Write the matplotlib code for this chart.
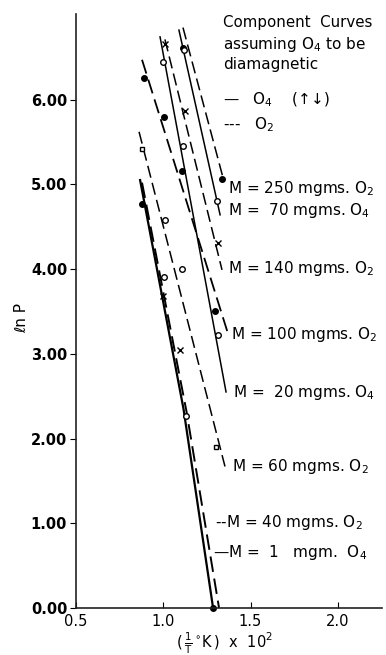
import matplotlib
matplotlib.use("Agg")
import matplotlib.pyplot as plt

plt.rcParams['font.family'] = ['DejaVu Sans']
plt.rcParams['mathtext.fontset'] = 'dejavusans'

# ---- data ----
x_ticks = [0.5, 1.0, 1.5, 2.0]
x_tick_labels = ["0.5", "1.0", "1.5", "2.0"]
y_ticks = [0, 1, 2, 3, 4, 5, 6]
y_tick_labels = ["0.00", "1.00", "2.00", "3.00", "4.00", "5.00", "6.00"]

# component curves (x = 1/T * 100, y = ln P)
m250_o2_x = [1.114, 1.349]
m250_o2_y = [6.85, 5.03]
m70_o4_x = [1.091, 1.326]
m70_o4_y = [6.82, 4.64]
m140_o2_x = [1.011, 1.337]
m140_o2_y = [6.71, 3.99]
m20_o4_x = [0.983, 1.360]
m20_o4_y = [6.74, 2.55]
m100_o2_x = [0.880, 1.377]
m100_o2_y = [6.47, 3.20]
m60_o2_x = [0.863, 1.354]
m60_o2_y = [5.62, 1.67]
m40_o2_x = [0.880, 1.134, 1.320]
m40_o2_y = [5.02, 2.32, 0.0]
m1_o4_x = [0.869, 1.117, 1.286]
m1_o4_y = [5.05, 2.35, 0.0]

# measured points
filled_x = [0.891, 1.006, 1.108, 1.297, 1.337, 1.112, 0.880, 1.286]
filled_y = [6.26, 5.80, 5.16, 3.51, 5.06, 6.61, 4.77, 0.0]
open_x = [1.000, 1.117, 1.114, 1.011, 1.108, 1.006, 1.131, 1.309, 1.314]
open_y = [6.44, 6.58, 5.45, 4.58, 4.00, 3.91, 2.26, 4.80, 3.22]
cross_x = [1.011, 1.126, 1.000, 1.097, 1.314]
cross_y = [6.66, 5.86, 3.68, 3.05, 4.31]
square_x = [0.880, 1.303]
square_y = [5.42, 1.90]

curve_labels = ["M = 250 mgms. O$_2$", "M =  70 mgms. O$_4$", "M = 140 mgms. O$_2$",
                "M = 100 mgms. O$_2$", "M =  20 mgms. O$_4$", "M = 60 mgms. O$_2$",
                "--M = 40 mgms. O$_2$", "\u2014M =  1   mgm.  O$_4$"]

W, H = 386, 655
fig = plt.figure(figsize=(W / 100, H / 100), dpi=100)
ax = fig.add_axes([75.5 / W, 1 - 608 / H, (382 - 75.5) / W, (608 - 14) / H])
ax.set_xlim(0.5, 2.251)
ax.set_ylim(0, 7.01)

dash = (0, (8, 3.5))
lw = 1.1
k = 'black'
ax.plot(m250_o2_x, m250_o2_y, color=k, lw=lw, ls=dash)
ax.plot(m70_o4_x, m70_o4_y, color=k, lw=lw, ls='-')
ax.plot(m140_o2_x, m140_o2_y, color=k, lw=lw, ls=dash)
ax.plot(m20_o4_x, m20_o4_y, color=k, lw=lw, ls='-')
ax.plot(m100_o2_x, m100_o2_y, color=k, lw=lw + 0.2, ls=dash)
ax.plot(m60_o2_x, m60_o2_y, color=k, lw=lw, ls=dash)
ax.plot(m40_o2_x, m40_o2_y, color=k, lw=lw + 0.3, ls=dash)
ax.plot(m1_o4_x, m1_o4_y, color=k, lw=lw + 0.5, ls='-')

ax.plot(filled_x, filled_y, 'o', ms=4, color=k, ls='none', clip_on=False)
ax.plot(open_x, open_y, 'o', ms=4, mfc='white', mec=k, mew=1.0, ls='none')
ax.plot(cross_x, cross_y, 'x', ms=4, color=k, mew=1.0, ls='none')
ax.plot(square_x, square_y, 's', ms=3.5, mfc='white', mec=k, mew=1.0, ls='none')

ax.spines['top'].set_visible(False)
ax.spines['right'].set_visible(False)
for s in ('left', 'bottom'):
    ax.spines[s].set_linewidth(1.2)
    ax.spines[s].set_color('#222222')
ax.set_xticks(x_ticks)
ax.set_xticklabels(x_tick_labels, fontsize=10.5)
ax.set_yticks(y_ticks)
ax.set_yticklabels(y_tick_labels, fontsize=10.5, fontweight='bold')
ax.tick_params(axis='x', direction='in', length=4, pad=4)
ax.tick_params(axis='y', direction='out', length=4, pad=2)

fs = 11
def ftext(px, py, s, size=fs, **kw):
    fig.text(px / W, 1 - py / H, s, ha='left', va='center', fontsize=size, **kw)

ftext(223, 22, "Component  Curves", size=10.8)
ftext(223, 44, "assuming O$_4$ to be", size=11)
ftext(223, 65, "diamagnetic", size=11)
ftext(223, 100, "\u2014   O$_4$    (\u2191\u2193)")
ftext(223, 125, "---   O$_2$")

label_pos = [(228, 188), (228, 210), (228, 268), (231, 335), (233, 392),
             (232, 467), (215, 523), (213, 552)]
for (px, py), s in zip(label_pos, curve_labels):
    ftext(px, py, s)

fig.text(22 / W, 1 - 318 / H, "\u2113n P", rotation=90, ha='center', va='center', fontsize=11)
fig.text(224 / W, 1 - 643 / H, r"$(\,\frac{1}{\mathrm{T}}\,{}^{\circ}\mathrm{K}\,)$  x  10$^2$",
         ha='center', va='center', fontsize=10.5)

fig.savefig("out.png", dpi=100)
